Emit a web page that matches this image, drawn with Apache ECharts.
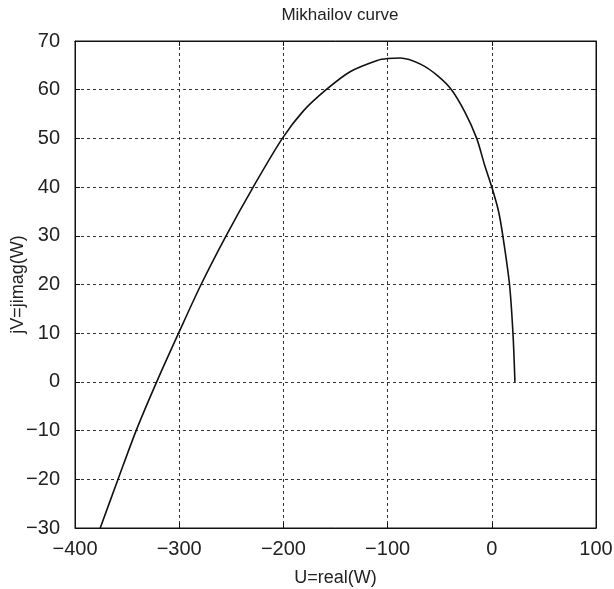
<!DOCTYPE html>
<html>
<head>
<meta charset="utf-8">
<title>Mikhailov curve</title>
<script src="https://cdn.jsdelivr.net/npm/echarts@6/dist/echarts.min.js"></script>
<style>
  html, body { margin: 0; padding: 0; background: #fff; }
  #chart { width: 614px; height: 589px; }
</style>
</head>
<body>
<div id="chart"></div>
<script>
// values: U = real(W), V = imag(W)
var realW = [-375.8, -358.7, -341.3, -321.6, -300.6, -279, -255, -229, -201, -181, -159, -136, -110,
             -100, -88, -68, -51.6, -38.7, -25.8, -14.5, -7, 0, 6.5, 10.6, 17, 20.3, 22.2];
var imagW = [-30, -20, -10, 0, 10, 20, 30, 40, 50, 55.6, 60, 63.7, 66.0,
             66.4, 66.5, 65.2, 62.8, 60, 55.4, 50, 44.6, 40, 35, 30, 20, 10, 0];
var xTicks = [-400, 100, 100];   // min, max, step
var yTicks = [-30, 70, 10];

var points = [];
for (var i = 0; i < realW.length; i++) {
    points.push([realW[i], imagW[i]]);
}

function minus(v) {
    return String(v).replace('-', '\u2212');
}

var fontFam = 'Liberation Sans, Arial, sans-serif';
var gridDash = { color: '#333', width: 1, type: [3, 3] };
var boxLine = { show: true, onZero: false, lineStyle: { color: '#111' } };
var inTick = { show: true, inside: true, length: 5, lineStyle: { color: '#111' } };

var myChart = echarts.init(document.getElementById('chart'));
var option = {
    backgroundColor: '#fff',
    animation: false,
    title: {
        text: 'Mikhailov curve',
        left: 335,
        top: 2,
        textAlign: 'center',
        textStyle: { fontFamily: fontFam, fontSize: 17, fontWeight: 'normal', color: '#222' }
    },
    grid: {
        left: 75, right: 18, top: 41, bottom: 61,
        containLabel: false,
        outerBoundsMode: 'none',
        show: true, borderColor: '#111', borderWidth: 1
    },
    xAxis: [{
        type: 'value',
        min: xTicks[0], max: xTicks[1], interval: xTicks[2],
        name: 'U=real(W)',
        nameLocation: 'middle',
        nameGap: 41,
        nameMoveOverlap: false,
        nameTextStyle: { fontFamily: fontFam, fontSize: 18, color: '#222' },
        axisLine: boxLine,
        axisTick: inTick,
        axisLabel: { fontFamily: fontFam, fontSize: 20, color: '#222', margin: 11, formatter: minus },
        splitLine: { show: true, lineStyle: gridDash }
    }, {
        type: 'value', position: 'top',
        min: xTicks[0], max: xTicks[1], interval: xTicks[2],
        axisLine: boxLine,
        axisTick: inTick,
        axisLabel: { show: false },
        splitLine: { show: false }
    }],
    yAxis: [{
        type: 'value',
        min: yTicks[0], max: yTicks[1], interval: yTicks[2],
        name: 'jV=jimag(W)',
        nameLocation: 'middle',
        nameGap: 48,
        nameMoveOverlap: false,
        nameTextStyle: { fontFamily: fontFam, fontSize: 18, color: '#222' },
        axisLine: boxLine,
        axisTick: inTick,
        axisLabel: { fontFamily: fontFam, fontSize: 20, color: '#222', margin: 15, formatter: minus },
        splitLine: { show: true, lineStyle: gridDash }
    }, {
        type: 'value', position: 'right',
        min: yTicks[0], max: yTicks[1], interval: yTicks[2],
        axisLine: boxLine,
        axisTick: inTick,
        axisLabel: { show: false },
        splitLine: { show: false }
    }],
    series: [{
        name: 'Mikhailov',
        type: 'line',
        data: points,
        showSymbol: false,
        smooth: 0.3,
        lineStyle: { color: '#111', width: 1.6 }
    }]
};
myChart.setOption(option);
</script>
</body>
</html>
